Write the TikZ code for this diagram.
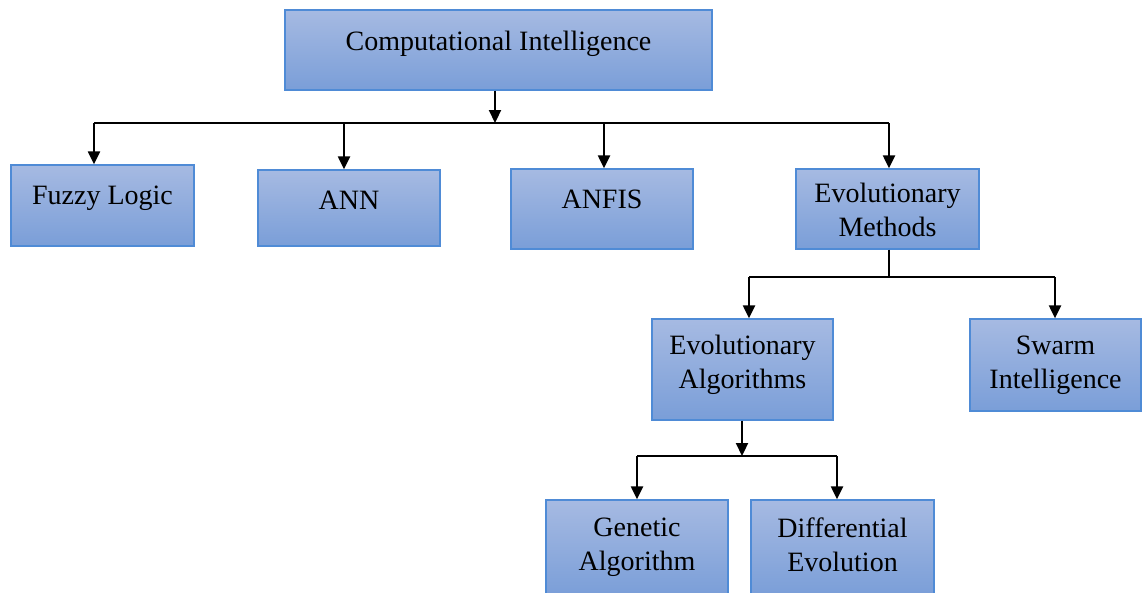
\documentclass[tikz,border=0pt]{standalone}
\usepackage{fontspec}
\setmainfont{Liberation Serif}
\usetikzlibrary{arrows.meta}

\definecolor{boxtop}{HTML}{A6BAE2}
\definecolor{boxbot}{HTML}{7A9ED8}
\definecolor{boxline}{HTML}{4F8BD6}

\tikzset{
  box/.style={rectangle, draw=boxline, line width=1.3pt, top color=boxtop,
    bottom color=boxbot, inner sep=0pt},
  lbl/.style={anchor=north, inner sep=0pt, align=center,
    font=\fontsize{28}{34}\selectfont},
  link/.style={line width=2.2pt, draw=black},
  arr/.style={link, -{Triangle[width=12pt,length=13pt]}}
}

\begin{document}
\begin{tikzpicture}[x=1pt,y=-1pt]
\useasboundingbox (0,0) rectangle (1142,592);

% boxes
\node[box, minimum width=427pt, minimum height=80pt] (ci) at (498.5,50) {};
\node[box, minimum width=183pt, minimum height=81pt] (fz) at (102.5,205.5) {};
\node[box, minimum width=182pt, minimum height=76pt] (ann) at (349,208) {};
\node[box, minimum width=182pt, minimum height=80pt] (anfis) at (602,209) {};
\node[box, minimum width=183pt, minimum height=80pt] (em) at (887.5,209) {};
\node[box, minimum width=181pt, minimum height=101pt] (ea) at (742.5,369.5) {};
\node[box, minimum width=171pt, minimum height=92pt] (si) at (1055.5,365) {};
\node[box, minimum width=182pt, minimum height=96pt] (ga) at (637,548) {};
\node[box, minimum width=183pt, minimum height=96pt] (de) at (842.5,548) {};

% labels
\node[lbl] (cit) at ([yshift=-22pt]ci.north) {Computational Intelligence};
\node[lbl] (fzt) at ([yshift=-21pt]fz.north) {Fuzzy Logic};
\node[lbl] (annt) at ([yshift=-21pt]ann.north) {ANN};
\node[lbl] (anfist) at ([yshift=-21pt]anfis.north) {ANFIS};
\node[lbl] (emt) at ([yshift=-15pt]em.north) {Evolutionary\\Methods};
\node[lbl] (eat) at ([yshift=-17pt]ea.north) {Evolutionary\\Algorithms};
\node[lbl] (sit) at ([yshift=-17pt]si.north) {Swarm\\Intelligence};
\node[lbl] (gat) at ([yshift=-18pt]ga.north) {Genetic\\Algorithm};
\node[lbl] (det) at ([yshift=-18pt]de.north) {Differential\\Evolution};

% junction points
\coordinate (c0) at (495,123);
\coordinate (b1) at (94,123);
\coordinate (b2) at (344,123);
\coordinate (b3) at (604,123);
\coordinate (b4) at (889,123);
\coordinate (m0) at (889,277);
\coordinate (m1) at (749,277);
\coordinate (m2) at (1055,277);
\coordinate (e0) at (742,456);
\coordinate (e1) at (637,456);
\coordinate (e2) at (837,456);

% first level
\draw[arr] (c0 |- ci.south) -- (c0);
\draw[link] (b1) -- (b4);
\draw[arr] (b1) -- (b1 |- fz.north);
\draw[arr] (b2) -- (b2 |- ann.north);
\draw[arr] (b3) -- (b3 |- anfis.north);
\draw[arr] (b4) -- (b4 |- em.north);

% evolutionary methods
\draw[link] (m0 |- em.south) -- (m0);
\draw[link] (m1) -- (m2);
\draw[arr] (m1) -- (m1 |- ea.north);
\draw[arr] (m2) -- (m2 |- si.north);

% evolutionary algorithms
\draw[arr] (e0 |- ea.south) -- (e0);
\draw[link] (e1) -- (e2);
\draw[arr] (e1) -- (e1 |- ga.north);
\draw[arr] (e2) -- (e2 |- de.north);
\end{tikzpicture}
\end{document}
